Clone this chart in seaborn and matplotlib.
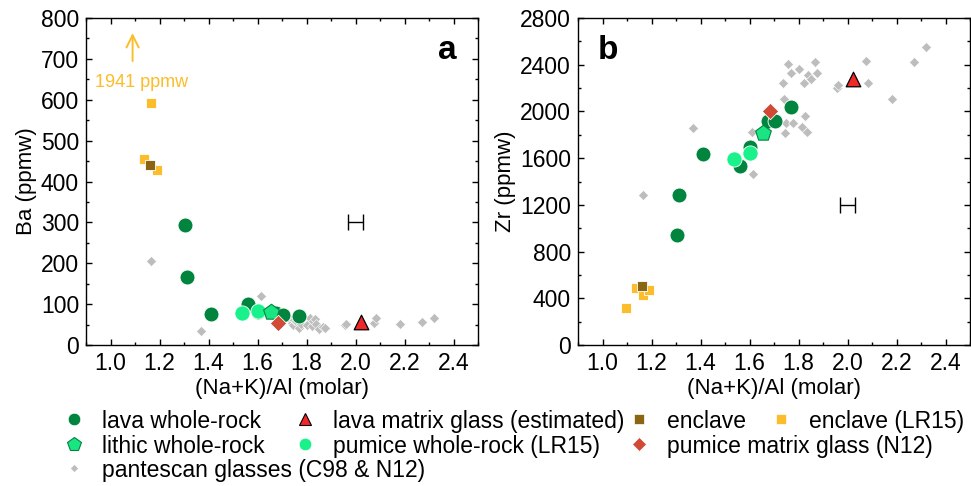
import numpy as np
import pandas as pd
import matplotlib.pyplot as plt
import seaborn as sns
from matplotlib.lines import Line2D
from matplotlib.ticker import MultipleLocator, FormatStrFormatter

# Daten
lava_nk = [1.304, 1.312, 1.409, 1.56, 1.602, 1.677, 1.704, 1.768]
lava_ba = [293, 167, 76, 100, 80, 78, 73, 72]
lava_zr = [939, 1284, 1635, 1535, 1698, 1921, 1921, 2041]

lava_glass_nk = [2.022]
lava_glass_ba = [57]
lava_glass_zr = [2278]

enclave_nk = [1.161]
enclave_ba = [440]
enclave_zr = [505]

enclave_lr15_nk = [1.096, 1.137, 1.164, 1.191]
enclave_lr15_ba = [1941, 456, 592, 428]
enclave_lr15_zr = [314, 485, 428, 471]

lithic_nk = [1.655]
lithic_ba = [81]
lithic_zr = [1813]

pumice_nk = [1.538, 1.60]
pumice_ba = [79, 83]
pumice_zr = [1590, 1647]

pumice_glass_nk = [1.682]
pumice_glass_ba = [55]
pumice_glass_zr = [2006]

pant_nk = [1.165, 1.368, 1.616, 1.612, 1.738, 1.742, 1.744, 1.749, 1.758, 1.769, 1.776,
           1.803, 1.813, 1.822, 1.828, 1.835, 1.837, 1.852, 1.867, 1.876, 1.955, 1.961,
           2.076, 2.085, 2.180, 2.273, 2.322]
pant_ba = [205, 35, 121, 90, 62, 55, 48, 60, 58, 41, 52,
           49, 65, 47, 58, 64, 51, 38, 45, 41, 48, 51,
           53, 65, 51, 57, 65]
pant_zr = [1284, 1855, 1467, 1821, 2246, 2104, 1813, 1898, 2406, 2332, 1898,
           2363, 1869, 2241, 1964, 1827, 2312, 2280, 2423, 2326, 2200, 2224,
           2435, 2241, 2104, 2423, 2554]

# Analytischer Fehler (Beispielbalken)
err_nk = [2.0]
err_ba = [300]
err_zr = [1200]
err_half = [0.03]

# Stil je Gruppe: (label, x, ba, zr, marker, s, face, edge, lw)
groups = [
    ('pantescan glasses (C98 & N12)', pant_nk, pant_ba, pant_zr, 'D', 26, '#bdbdbd', 'white', 0.4),
    ('enclave (LR15)', enclave_lr15_nk, enclave_lr15_ba, enclave_lr15_zr, 's', 60, '#fbbd2b', 'white', 0.6),
    ('enclave', enclave_nk, enclave_ba, enclave_zr, 's', 60, '#8a6512', 'white', 0.6),
    ('lava whole-rock', lava_nk, lava_ba, lava_zr, 'o', 115, '#00843e', 'white', 0.6),
    ('pumice whole-rock (LR15)', pumice_nk, pumice_ba, pumice_zr, 'o', 120, '#19f28a', 'white', 0.6),
    ('lithic whole-rock', lithic_nk, lithic_ba, lithic_zr, 'p', 140, '#1ae582', '#00843e', 0.8),
    ('pumice matrix glass (N12)', pumice_glass_nk, pumice_glass_ba, pumice_glass_zr, 'D', 70, '#d04a35', 'white', 0.6),
    ('lava matrix glass (estimated)', lava_glass_nk, lava_glass_ba, lava_glass_zr, '^', 110, '#f02828', 'black', 0.9),
]

sns.set_style('ticks')
plt.rcParams['font.family'] = ['Liberation Sans', 'DejaVu Sans']
plt.rcParams['font.size'] = 16
plt.rcParams['axes.linewidth'] = 1.0
for key in ['text.color', 'axes.labelcolor', 'xtick.color', 'ytick.color',
            'xtick.labelcolor', 'ytick.labelcolor', 'axes.edgecolor']:
    plt.rcParams[key] = 'black'

fig = plt.figure(figsize=(9.71, 4.86), dpi=100)
ax_a = fig.add_axes([0.0886, 0.2901, 0.4037, 0.6728])
ax_b = fig.add_axes([0.5953, 0.2901, 0.4037, 0.6728])

for z, (lab, nk, ba, zr, m, s, fc, ec, lw) in enumerate(groups):
    sns.scatterplot(x=nk, y=ba, ax=ax_a, marker=m, s=s, color=fc, edgecolor=ec,
                    linewidth=lw, zorder=3 + z, legend=False, clip_on=True)
    sns.scatterplot(x=nk, y=zr, ax=ax_b, marker=m, s=s, color=fc, edgecolor=ec,
                    linewidth=lw, zorder=3 + z, legend=False, clip_on=True)

ax_a.errorbar(err_nk, err_ba, xerr=err_half, fmt='none', ecolor='black',
              elinewidth=1, capsize=5.5, capthick=1)
ax_b.errorbar(err_nk, err_zr, xerr=err_half, fmt='none', ecolor='black',
              elinewidth=1, capsize=5.5, capthick=1)

# Pfeil fuer den Wert ausserhalb der Skala
ax_a.annotate('', xy=(1.09, 770), xytext=(1.09, 688),
              arrowprops=dict(arrowstyle='->', color='#fbbd2b', lw=1.4,
                              mutation_scale=22))
ax_a.text(1.128, 643, '1941 ppmw', color='#fbbd2b', fontsize=13,
          ha='center', va='center')

for ax, ylab, ymax, major, minor in [(ax_a, 'Ba (ppmw)', 800, 100, 50),
                                     (ax_b, 'Zr (ppmw)', 2800, 400, 200)]:
    ax.set_xlim(0.9, 2.5)
    ax.set_ylim(0, ymax)
    ax.xaxis.set_major_locator(MultipleLocator(0.2))
    ax.xaxis.set_minor_locator(MultipleLocator(0.1))
    ax.xaxis.set_major_formatter(FormatStrFormatter('%.1f'))
    ax.yaxis.set_major_locator(MultipleLocator(major))
    ax.yaxis.set_minor_locator(MultipleLocator(minor))
    ax.tick_params(which='both', direction='in', top=True, right=True,
                   labelsize=16.5, width=1, color='black', labelcolor='black')
    ax.tick_params(which='major', length=4.5, pad=5)
    ax.tick_params(which='minor', length=2.5)
    ax.set_xlabel('(Na+K)/Al (molar)', fontsize=16, labelpad=2, color='black')
    ax.set_ylabel(ylab, fontsize=16, labelpad=3, color='black')
    for sp in ax.spines.values():
        sp.set_visible(True)
        sp.set_color('black')

ax_a.text(0.921, 0.90, 'a', transform=ax_a.transAxes, fontsize=24,
          fontweight='bold', ha='center', va='center', color='black')
ax_b.text(0.077, 0.90, 'b', transform=ax_b.transAxes, fontsize=24,
          fontweight='bold', ha='center', va='center', color='black')

# Legende: jeder Eintrag einzeln platziert (wie im Original)
leg_style = {
    'lava whole-rock': ('o', 9, '#00843e', 'white', 0.5),
    'lava matrix glass (estimated)': ('^', 9, '#f02828', 'black', 0.8),
    'enclave': ('s', 6.5, '#8a6512', 'white', 0.5),
    'enclave (LR15)': ('s', 6.5, '#fbbd2b', 'white', 0.5),
    'lithic whole-rock': ('p', 10, '#1ae582', '#00843e', 0.8),
    'pumice whole-rock (LR15)': ('o', 9, '#19f28a', 'white', 0.5),
    'pumice matrix glass (N12)': ('D', 7, '#d04a35', 'white', 0.5),
    'pantescan glasses (C98 & N12)': ('D', 4.5, '#bdbdbd', 'white', 0.4),
}
leg_pos = [
    ('lava whole-rock', 63, 421),
    ('lava matrix glass (estimated)', 294, 421),
    ('enclave', 628, 421),
    ('enclave (LR15)', 770, 421),
    ('lithic whole-rock', 63, 446),
    ('pumice whole-rock (LR15)', 294, 446),
    ('pumice matrix glass (N12)', 628, 446),
    ('pantescan glasses (C98 & N12)', 63, 470),
]
W, H = 971, 486
for lab, px, py in leg_pos:
    m, ms, fc, ec, lw = leg_style[lab]
    h = Line2D([], [], linestyle='none', marker=m, markersize=ms,
               markerfacecolor=fc, markeredgecolor=ec, markeredgewidth=lw)
    leg = fig.legend(handles=[h], labels=[lab], loc='center left',
                     bbox_to_anchor=(px / W, 1 - py / H), frameon=False,
                     fontsize=16.5, borderpad=0, borderaxespad=0,
                     handlelength=1.0, handletextpad=0.72, labelcolor='black')

fig.savefig('out.png', dpi=100)
